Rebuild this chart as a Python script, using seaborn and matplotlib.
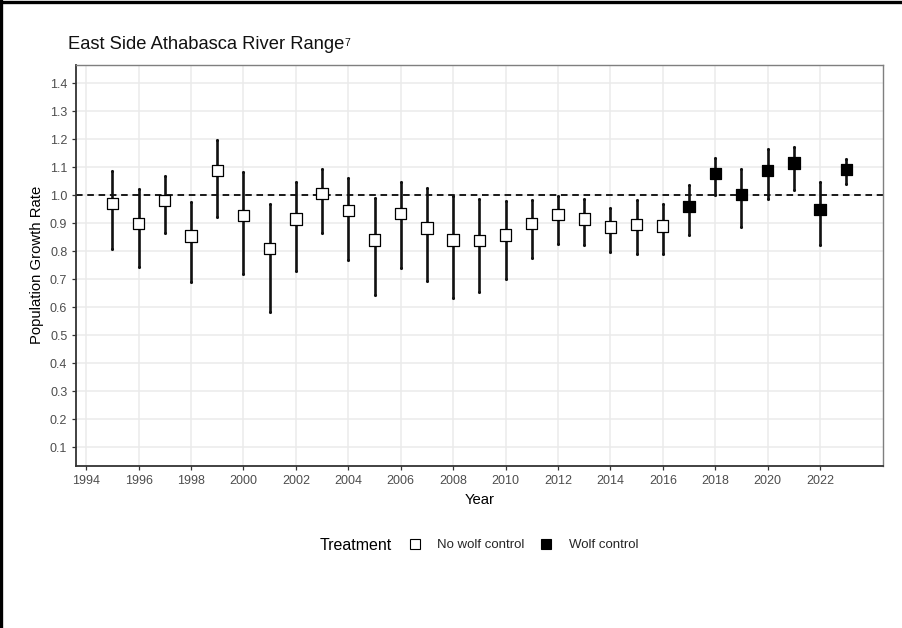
import matplotlib
matplotlib.use("Agg")
import matplotlib.pyplot as plt
from matplotlib.lines import Line2D
import numpy as np
import pandas as pd
import seaborn as sns

# Annual population growth rate estimates with 90% interval bounds
years = [1995, 1996, 1997, 1998, 1999, 2000, 2001, 2002, 2003, 2004,
         2005, 2006, 2007, 2008, 2009, 2010, 2011, 2012, 2013, 2014,
         2015, 2016, 2017, 2018, 2019, 2020, 2021, 2022, 2023]
rate = [0.970, 0.899, 0.982, 0.855, 1.089, 0.928, 0.809, 0.915, 1.006, 0.945,
        0.840, 0.935, 0.883, 0.840, 0.838, 0.858, 0.899, 0.931, 0.915, 0.887,
        0.896, 0.890, 0.961, 1.079, 1.002, 1.089, 1.115, 0.950, 1.093]
upper = [1.085, 1.024, 1.068, 0.976, 1.198, 1.082, 0.968, 1.047, 1.093, 1.062,
         0.990, 1.047, 1.027, 0.998, 0.986, 0.979, 0.982, 0.998, 0.986, 0.956,
         0.985, 0.968, 1.036, 1.134, 1.095, 1.166, 1.174, 1.047, 1.130]
lower = [0.807, 0.743, 0.866, 0.689, 0.922, 0.719, 0.585, 0.731, 0.864, 0.769,
         0.644, 0.741, 0.693, 0.635, 0.655, 0.701, 0.775, 0.825, 0.822, 0.798,
         0.790, 0.790, 0.858, 1.000, 0.887, 0.986, 1.020, 0.821, 1.039]
treatment = ["No wolf control"] * 22 + ["Wolf control"] * 7

x_ticks = list(range(1994, 2023, 2))
y_ticks = [round(0.1 * i, 1) for i in range(1, 15)]

df = pd.DataFrame({"Year": years, "Rate": rate, "Upper": upper,
                   "Lower": lower, "Treatment": treatment})

sns.set_theme(style="white")
plt.rcParams["font.family"] = ["Liberation Sans", "DejaVu Sans"]

fig = plt.figure(figsize=(9.03, 6.28), dpi=100)
ax = fig.add_axes([75.7 / 903, 1 - 465.7 / 628, (883 - 75.7) / 903, (465.7 - 65) / 628])

# grid
ax.set_axisbelow(True)
ax.grid(True, color="#ebebeb", linewidth=1.1)

# reference line at stable growth
ax.axhline(1.0, color="#1a1a1a", linestyle=(0, (3.4, 2.4)), linewidth=1.4, zorder=2)

# interval bars
ax.vlines(df["Year"], df["Lower"], df["Upper"], color="#111111", linewidth=1.9, zorder=3)
ax.scatter(df["Year"], df["Upper"], marker="o", s=5, color="#111111", linewidths=0, zorder=3)
ax.scatter(df["Year"], df["Lower"], marker="o", s=5, color="#111111", linewidths=0, zorder=3)

# point estimates
sns.scatterplot(data=df, x="Year", y="Rate", hue="Treatment", style="Treatment",
                palette={"No wolf control": "white", "Wolf control": "black"},
                markers={"No wolf control": "s", "Wolf control": "s"},
                s=66, edgecolor="black", linewidth=0.9, legend=False, zorder=4, ax=ax)

ax.set_xlim(1993.6, 2024.4)
ax.set_ylim(0.035, 1.465)
ax.set_xticks(x_ticks)
ax.set_xticklabels([str(v) for v in x_ticks])
ax.set_yticks(y_ticks)
ax.set_yticklabels([f"{v:.1f}" for v in y_ticks])
ax.tick_params(axis="both", which="major", length=3, width=0.9, color="#333333",
               labelsize=9, labelcolor="#4d4d4d", pad=3, bottom=True, left=True)
ax.tick_params(axis="x", pad=4)

for side in ["top", "right"]:
    ax.spines[side].set_color("#7f7f7f")
    ax.spines[side].set_linewidth(1.0)
for side in ["left", "bottom"]:
    ax.spines[side].set_color("#333333")
    ax.spines[side].set_linewidth(1.3)

ax.set_xlabel("Year", fontsize=10.7, color="black", labelpad=4)
ax.set_ylabel("Population Growth Rate", fontsize=10.7, color="black", labelpad=4)

title = fig.text(68 / 903, 1 - 49 / 628, "East Side Athabasca River Range",
                 fontsize=13.2, color="#111111", ha="left", va="baseline")
fig.canvas.draw()
ax.annotate("7", xy=(1, 1), xycoords=title, xytext=(0.2, -1.5),
            textcoords="offset points", fontsize=7.5, ha="left", va="top",
            color="#111111")

# legend
fig.text(320 / 903, 1 - 545 / 628, "Treatment", fontsize=11.5, color="black",
         ha="left", va="center")
handles = [
    Line2D([], [], linestyle="none", marker="s", markersize=7.5,
           markerfacecolor="white", markeredgecolor="black", markeredgewidth=0.8),
    Line2D([], [], linestyle="none", marker="s", markersize=7.5,
           markerfacecolor="black", markeredgecolor="black", markeredgewidth=0.8),
]
fig.legend(handles, ["No wolf control", "Wolf control"], ncol=2, frameon=False,
           loc="center left", bbox_to_anchor=(408 / 903, 1 - 545 / 628),
           fontsize=9.5, handlelength=1.0, handletextpad=1.2, columnspacing=1.15,
           borderpad=0, borderaxespad=0)

# frame edges on top and left of the canvas
fig.add_artist(Line2D([0, 1], [1 - 1.5 / 628, 1 - 1.5 / 628], color="black",
                      linewidth=2.4, transform=fig.transFigure))
fig.add_artist(Line2D([1.5 / 903, 1.5 / 903], [0, 1], color="black",
                      linewidth=2.4, transform=fig.transFigure))

fig.savefig("out.png", dpi=100)
